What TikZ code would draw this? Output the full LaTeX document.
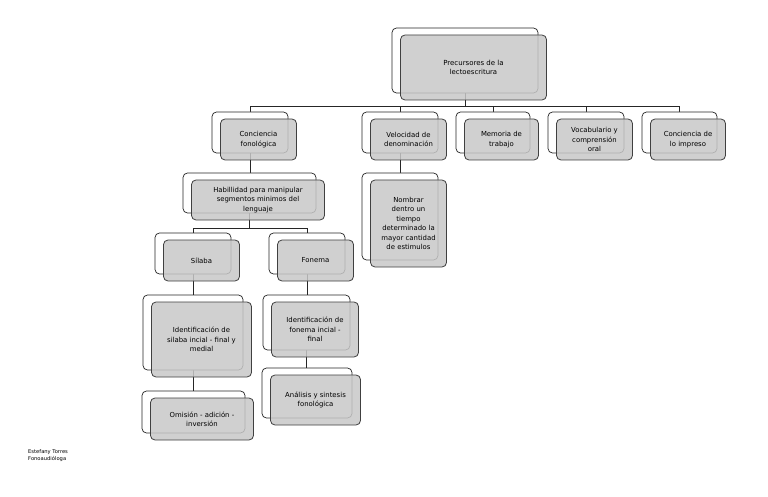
\documentclass[tikz,border=0pt]{standalone}
\usepackage{fontspec}
\setmainfont{DejaVu Sans}
\usetikzlibrary{backgrounds}
\tikzset{
  x=1pt,y=-1pt,
  backbox/.style={draw=black!85,line width=0.7pt,fill=white,rounded corners=4.5pt,inner sep=0pt,outer sep=0pt},
  frontbox/.style={draw=black!75,line width=0.8pt,fill={rgb,255:red,200;green,200;blue,200},fill opacity=0.85,text opacity=1,rounded corners=4.5pt,inner sep=0pt,outer sep=0pt,align=center,font=\fontsize{6.9}{9.4}\selectfont},
  conn/.style={draw=black!85,line width=0.8pt},
  sign/.style={font=\fontsize{5.2}{7}\selectfont,align=left,anchor=north west,inner sep=0pt}
}
\newcommand{\smbox}[6]{%
  \node[backbox,minimum width={(#4-#2)*1pt},minimum height={(#5-#3)*1pt}] (#1B) at ({(#2+#4)/2},{(#3+#5)/2}) {};
  \node[frontbox,minimum width={(#4-#2)*1pt},minimum height={(#5-#3)*1pt}] (#1) at ({(#2+#4)/2+8.5},{(#3+#5)/2+7}) {#6};
}
\begin{document}
\begin{tikzpicture}
\useasboundingbox (0,0) rectangle (768,497);
\smbox{root}{392}{28}{538}{93}{\fontsize{7}{12}\selectfont Precursores de la\\lectoescritura}
\smbox{cf}{212}{112}{288}{153}{Conciencia\\fonológica}
\smbox{vd}{362}{112}{438}{153}{Velocidad de\\denominación}
\smbox{mt}{456}{112}{530}{153}{Memoria de\\trabajo}
\smbox{vc}{548}{112}{624}{153}{Vocabulario y\\comprensión\\oral}
\smbox{ci}{642}{112}{717}{153}{Conciencia de\\lo impreso}
\smbox{hm}{183}{173}{316}{213}{Habillidad para manipular\\segmentos minimos del\\lenguaje}
\smbox{nb}{362}{173}{438}{260}{Nombrar\\dentro un\\tiempo\\determinado la\\mayor cantidad\\de estimulos}
\smbox{si}{155}{233}{231}{274}{Sílaba}
\smbox{fo}{269}{233}{345}{274}{Fonema}
\smbox{is}{143}{295}{243}{370}{Identificación de\\silaba incial - final y\\medial}
\smbox{om}{142}{391}{245}{433}{Omisión - adición -\\inversión}
\smbox{if}{263}{295}{350}{350}{Identificación de\\fonema incial -\\final}
\smbox{an}{262}{368}{352}{418}{Análisis y sintesis\\fonológica}
\coordinate (bar1) at (0,106);
\coordinate (bar2) at (0,228);
\begin{scope}[on background layer]
  \fill[white] (0,0) rectangle (768,497);
  \foreach \c in {cf,vd,mt,vc,ci}
    \draw[conn] (rootB.south) -- (rootB.south |- bar1) -| (\c B.north);
  \draw[conn] (cfB.south) -- (cfB.south |- hmB.north);
  \draw[conn] (vdB.south) -- (vdB.south |- nbB.north);
  \foreach \c in {si,fo}
    \draw[conn] (hmB.south) -- (hmB.south |- bar2) -| (\c B.north);
  \draw[conn] (siB.south) -- (siB.south |- isB.north);
  \draw[conn] (isB.south) -- (isB.south |- omB.north);
  \draw[conn] (foB.south) -- (foB.south |- ifB.north);
  \draw[conn] (ifB.south) -- (ifB.south |- anB.north);
\end{scope}
\node[sign] (sig) at (28,449) {Estefany Torres\\Fonoaudióloga};
\end{tikzpicture}
\end{document}
